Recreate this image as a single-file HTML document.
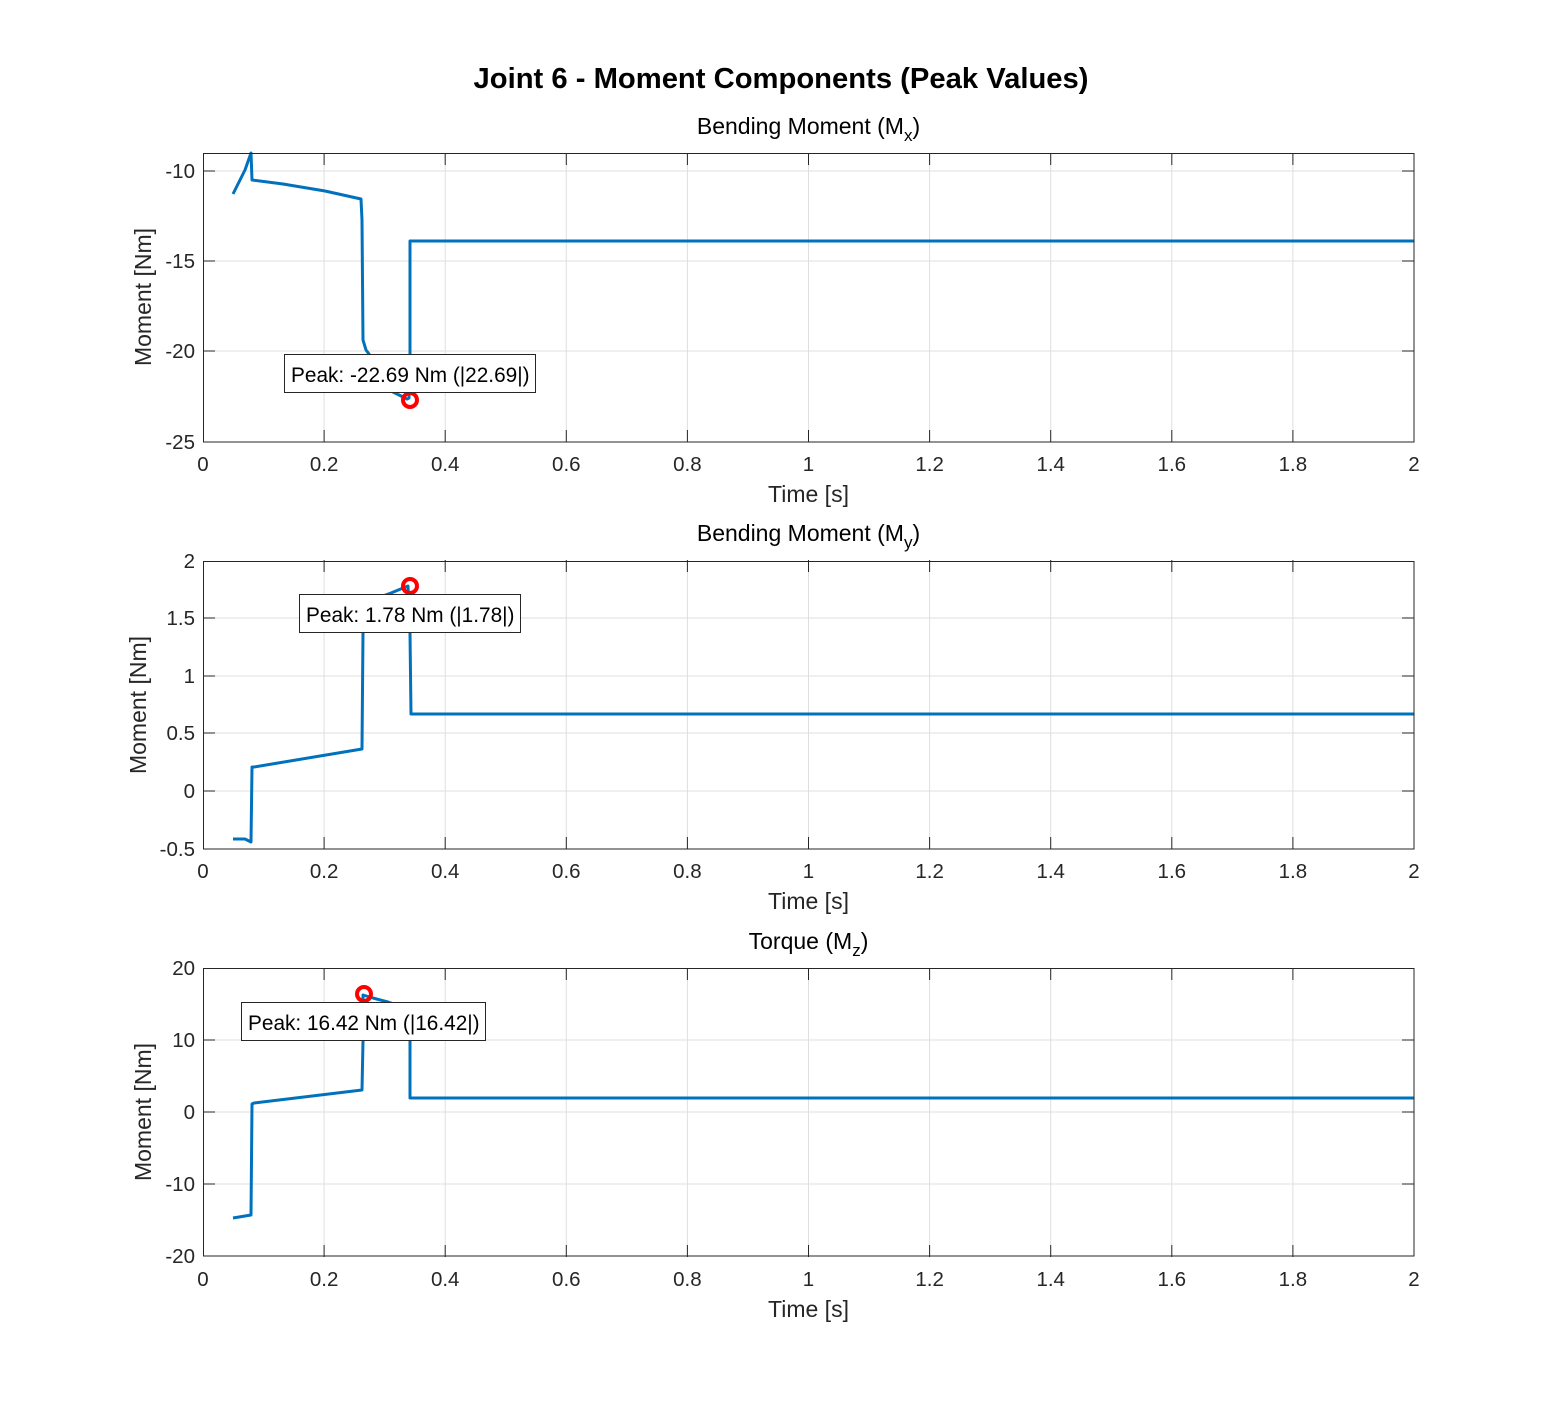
<!DOCTYPE html>
<html><head><meta charset="utf-8"><style>
html,body{margin:0;padding:0;background:#fff;}
svg{display:block;}
text{font-family:"Liberation Sans",Arial,sans-serif;}
</style></head><body>
<svg width="1563" height="1406" viewBox="0 0 1563 1406" xmlns="http://www.w3.org/2000/svg">
<rect width="1563" height="1406" fill="#fff"/>
<text x="781" y="88" font-size="29" font-weight="bold" text-anchor="middle" fill="#000" textLength="615" lengthAdjust="spacingAndGlyphs">Joint 6 - Moment Components (Peak Values)</text>

<defs>
<g id="xgrid">
<g stroke="#dfdfdf" stroke-width="1">
<line x1="324.1" y1="0" x2="324.1" y2="289"/><line x1="445.2" y1="0" x2="445.2" y2="289"/>
<line x1="566.3" y1="0" x2="566.3" y2="289"/><line x1="687.4" y1="0" x2="687.4" y2="289"/>
<line x1="808.5" y1="0" x2="808.5" y2="289"/><line x1="929.6" y1="0" x2="929.6" y2="289"/>
<line x1="1050.7" y1="0" x2="1050.7" y2="289"/><line x1="1171.8" y1="0" x2="1171.8" y2="289"/>
<line x1="1292.9" y1="0" x2="1292.9" y2="289"/>
</g>
<g stroke="#262626" stroke-width="1">
<line x1="324.1" y1="0" x2="324.1" y2="12"/><line x1="445.2" y1="0" x2="445.2" y2="12"/><line x1="566.3" y1="0" x2="566.3" y2="12"/><line x1="687.4" y1="0" x2="687.4" y2="12"/><line x1="808.5" y1="0" x2="808.5" y2="12"/><line x1="929.6" y1="0" x2="929.6" y2="12"/><line x1="1050.7" y1="0" x2="1050.7" y2="12"/><line x1="1171.8" y1="0" x2="1171.8" y2="12"/><line x1="1292.9" y1="0" x2="1292.9" y2="12"/>
<line x1="324.1" y1="289" x2="324.1" y2="277"/><line x1="445.2" y1="289" x2="445.2" y2="277"/><line x1="566.3" y1="289" x2="566.3" y2="277"/><line x1="687.4" y1="289" x2="687.4" y2="277"/><line x1="808.5" y1="289" x2="808.5" y2="277"/><line x1="929.6" y1="289" x2="929.6" y2="277"/><line x1="1050.7" y1="289" x2="1050.7" y2="277"/><line x1="1171.8" y1="289" x2="1171.8" y2="277"/><line x1="1292.9" y1="289" x2="1292.9" y2="277"/>
</g>
<g font-size="20.5" fill="#262626" text-anchor="middle">
<text x="203" y="318">0</text><text x="324.1" y="318">0.2</text><text x="445.2" y="318">0.4</text><text x="566.3" y="318">0.6</text><text x="687.4" y="318">0.8</text><text x="808.5" y="318">1</text><text x="929.6" y="318">1.2</text><text x="1050.7" y="318">1.4</text><text x="1171.8" y="318">1.6</text><text x="1292.9" y="318">1.8</text><text x="1414" y="318">2</text>
</g>
<text x="808.5" y="349" font-size="23" fill="#262626" text-anchor="middle">Time [s]</text>
</g>
</defs>

<!-- Panel 1 -->
<text x="808.5" y="134" font-size="23" text-anchor="middle" fill="#000">Bending Moment (M<tspan font-size="17" dy="7">x</tspan><tspan dy="-7">)</tspan></text>
<use href="#xgrid" transform="translate(0,153)"/>
<g stroke="#dfdfdf"><line x1="203" y1="171" x2="1414" y2="171"/><line x1="203" y1="261" x2="1414" y2="261"/><line x1="203" y1="351" x2="1414" y2="351"/></g>
<g stroke="#262626"><line x1="203" y1="171" x2="215" y2="171"/><line x1="203" y1="261" x2="215" y2="261"/><line x1="203" y1="351" x2="215" y2="351"/>
<line x1="1414" y1="171" x2="1402" y2="171"/><line x1="1414" y1="261" x2="1402" y2="261"/><line x1="1414" y1="351" x2="1402" y2="351"/></g>
<g font-size="20.5" fill="#262626" text-anchor="end"><text x="195" y="178">-10</text><text x="195" y="268">-15</text><text x="195" y="358">-20</text><text x="195" y="449">-25</text></g>
<text transform="translate(151,297) rotate(-90)" font-size="23" fill="#262626" text-anchor="middle">Moment [Nm]</text>
<polyline fill="none" stroke="#0072BD" stroke-width="3" stroke-linejoin="round" points="233,194 245,170 251,153 252,180 283,184 325,191 361,199 362,220 363,340 366,350 372,358 384,380 393,392 407,399 409,398 410,354 410,241 1414,241"/>
<circle cx="410" cy="400" r="7" fill="none" stroke="#f00" stroke-width="4"/>
<rect x="284.5" y="354.5" width="251" height="38" fill="#fff" stroke="#262626" stroke-width="1"/>
<text x="291" y="382" font-size="20.8" fill="#000">Peak: -22.69 Nm (|22.69|)</text>
<rect x="203.5" y="153.5" width="1210.5" height="288.5" fill="none" stroke="#262626" stroke-width="1"/>

<!-- Panel 2 -->
<text x="808.5" y="541" font-size="23" text-anchor="middle" fill="#000">Bending Moment (M<tspan font-size="17" dy="7">y</tspan><tspan dy="-7">)</tspan></text>
<use href="#xgrid" transform="translate(0,560)"/>
<g stroke="#dfdfdf"><line x1="203" y1="618" x2="1414" y2="618"/><line x1="203" y1="676" x2="1414" y2="676"/><line x1="203" y1="733" x2="1414" y2="733"/><line x1="203" y1="791" x2="1414" y2="791"/></g>
<g stroke="#262626"><line x1="203" y1="618" x2="215" y2="618"/><line x1="203" y1="676" x2="215" y2="676"/><line x1="203" y1="733" x2="215" y2="733"/><line x1="203" y1="791" x2="215" y2="791"/>
<line x1="1414" y1="618" x2="1402" y2="618"/><line x1="1414" y1="676" x2="1402" y2="676"/><line x1="1414" y1="733" x2="1402" y2="733"/><line x1="1414" y1="791" x2="1402" y2="791"/></g>
<g font-size="20.5" fill="#262626" text-anchor="end"><text x="195" y="568">2</text><text x="195" y="625">1.5</text><text x="195" y="683">1</text><text x="195" y="740">0.5</text><text x="195" y="798">0</text><text x="195" y="856">-0.5</text></g>
<text transform="translate(146,705) rotate(-90)" font-size="23" fill="#262626" text-anchor="middle">Moment [Nm]</text>
<polyline fill="none" stroke="#0072BD" stroke-width="3" stroke-linejoin="round" points="233,839 245,839 251,842 252,767 254,767 362,749 363,632 364,610 372,600 391,593 408,586 410,633 411,714 1414,714"/>
<circle cx="410" cy="586" r="7" fill="none" stroke="#f00" stroke-width="4"/>
<rect x="299.5" y="594.5" width="221" height="38" fill="#fff" stroke="#262626" stroke-width="1"/>
<text x="306" y="622" font-size="20.8" fill="#000">Peak: 1.78 Nm (|1.78|)</text>
<rect x="203.5" y="561.5" width="1210.5" height="287.5" fill="none" stroke="#262626" stroke-width="1"/>

<!-- Panel 3 -->
<text x="808.5" y="949" font-size="23" text-anchor="middle" fill="#000">Torque (M<tspan font-size="17" dy="7">z</tspan><tspan dy="-7">)</tspan></text>
<use href="#xgrid" transform="translate(0,968)"/>
<g stroke="#dfdfdf"><line x1="203" y1="1040" x2="1414" y2="1040"/><line x1="203" y1="1112" x2="1414" y2="1112"/><line x1="203" y1="1184" x2="1414" y2="1184"/></g>
<g stroke="#262626"><line x1="203" y1="1040" x2="215" y2="1040"/><line x1="203" y1="1112" x2="215" y2="1112"/><line x1="203" y1="1184" x2="215" y2="1184"/>
<line x1="1414" y1="1040" x2="1402" y2="1040"/><line x1="1414" y1="1112" x2="1402" y2="1112"/><line x1="1414" y1="1184" x2="1402" y2="1184"/></g>
<g font-size="20.5" fill="#262626" text-anchor="end"><text x="195" y="975">20</text><text x="195" y="1047">10</text><text x="195" y="1119">0</text><text x="195" y="1191">-10</text><text x="195" y="1263">-20</text></g>
<text transform="translate(151,1112) rotate(-90)" font-size="23" fill="#262626" text-anchor="middle">Moment [Nm]</text>
<polyline fill="none" stroke="#0072BD" stroke-width="3" stroke-linejoin="round" points="233,1218 245,1216 251,1215 252,1104 254,1103 362,1090 363,1041 363,995 373,998 388,1002 405,1008 410,1041 410,1098 1414,1098"/>
<circle cx="364" cy="994" r="7" fill="none" stroke="#f00" stroke-width="4"/>
<rect x="241.5" y="1002.5" width="244" height="38" fill="#fff" stroke="#262626" stroke-width="1"/>
<text x="248" y="1030" font-size="20.8" fill="#000">Peak: 16.42 Nm (|16.42|)</text>
<rect x="203.5" y="968.5" width="1210.5" height="287.5" fill="none" stroke="#262626" stroke-width="1"/>
</svg>
</body></html>
